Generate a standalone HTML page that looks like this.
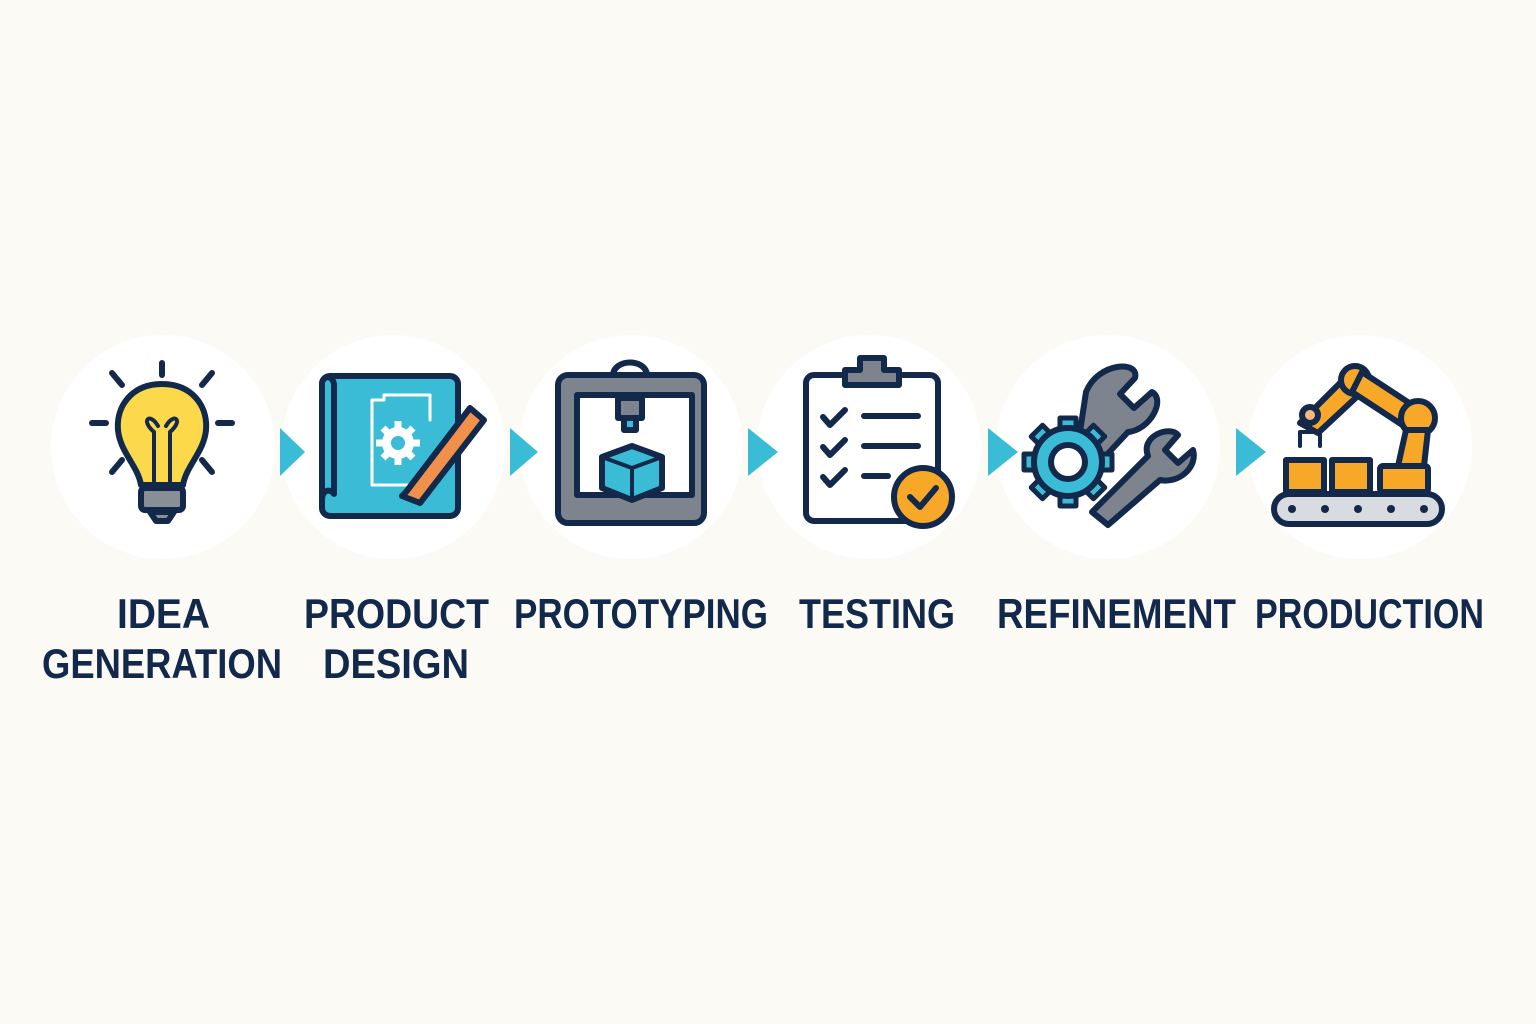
<!DOCTYPE html>
<html><head><meta charset="utf-8"><style>
html,body{margin:0;padding:0;background:#fcfaf5;}
svg{display:block}
text{font-family:"Liberation Sans",sans-serif;font-weight:bold;fill:#13294b;font-size:42px;}
</style></head><body>
<svg width="1536" height="1024" viewBox="0 0 1536 1024">
<rect width="1536" height="1024" fill="#fcfaf5"/>
<g fill="#ffffff">
<ellipse cx="163" cy="447" rx="112" ry="112"/>
<ellipse cx="393" cy="447" rx="112" ry="112"/>
<ellipse cx="631" cy="447" rx="112" ry="112"/>
<ellipse cx="869" cy="447" rx="112" ry="112"/>
<ellipse cx="1108" cy="447" rx="112" ry="112"/>
<ellipse cx="1360" cy="447" rx="112" ry="112"/>
</g>
<g fill="#3bbcd6">
<polygon points="280,428 305,452 280,476"/>
<polygon points="510,428 538,452 510,476"/>
<polygon points="748,428 778,452 748,476"/>
<polygon points="988,428 1018,452 988,476"/>
<polygon points="1236,428 1266,452 1236,476"/>
</g>
<g stroke="#13294b" stroke-width="6" stroke-linecap="round" stroke-linejoin="round">
<line x1="162" y1="375" x2="162" y2="363"/>
<line x1="112" y1="373" x2="122" y2="385"/><line x1="212" y1="373" x2="202" y2="385"/>
<line x1="92" y1="423" x2="106" y2="423"/><line x1="218" y1="423" x2="232" y2="423"/>
<line x1="112" y1="472" x2="122" y2="460"/><line x1="212" y1="472" x2="202" y2="460"/>
<path d="M162 384 C132 384 116 406 118 430 C120 452 138 466 141 485 L183 485 C186 466 204 452 206 430 C208 406 192 384 162 384Z" fill="#fbd94a"/>
<path d="M154 485 L154 432 M170 485 L170 432 M154 432 C140 420 150 412 158 426 M170 432 C184 420 174 412 166 426" fill="none" stroke-width="4"/>
<rect x="141" y="488" width="42" height="22" rx="4" fill="#8a8f96"/>
<path d="M150 512 L174 512 L168 521 L156 521Z" fill="#8a8f96"/>
<rect x="322" y="376" width="136" height="140" rx="8" fill="#3bbcd6"/>
<path d="M322 384 C322 376 332 374 334 384 L334 494 C330 488 322 490 322 500Z" fill="#3bbcd6"/>
<path d="M372 400 L384 400 L384 395 L430 395 L430 420 M372 400 L372 485 L426 485" fill="none" stroke="#fff" stroke-width="3"/>
<g stroke="#fff" stroke-width="7" stroke-linecap="butt"><line x1="398" y1="421" x2="398" y2="465"/><line x1="376" y1="443" x2="420" y2="443"/><line x1="383" y1="428" x2="413" y2="458"/><line x1="413" y1="428" x2="383" y2="458"/></g>
<circle cx="398" cy="443" r="16" fill="#fff" stroke="none"/>
<circle cx="398" cy="443" r="7" fill="#3bbcd6" stroke="none"/>
<path d="M406 492 L470 408 L484 420 L420 503 L402 496Z" fill="#f0904a"/>
<path d="M613 376 C613 358 647 358 647 376" fill="none"/>
<rect x="558" y="375" width="146" height="148" rx="10" fill="#7d848d"/>
<rect x="577" y="395" width="115" height="100" fill="#fff"/>
<rect x="618" y="398" width="24" height="20" fill="#7d848d"/>
<rect x="624" y="418" width="12" height="12" fill="#3bbcd6"/>
<path d="M602 457 L632 446 L662 457 L662 488 L632 500 L602 488Z" fill="#3bbcd6"/>
<path d="M602 457 L632 468 L662 457 M632 468 L632 500" fill="none" stroke-width="4"/>
<rect x="806" y="375" width="132" height="146" rx="8" fill="#fff"/>
<path d="M845 385 L845 370 L860 370 L860 358 L884 358 L884 370 L899 370 L899 385Z" fill="#7d848d"/>
<path d="M823 417 L830 425 L845 410 M823 447 L830 455 L845 440 M823 477 L830 485 L845 470" fill="none"/>
<line x1="864" y1="416" x2="918" y2="416"/><line x1="864" y1="446" x2="918" y2="446"/><line x1="864" y1="476" x2="888" y2="476"/>
<circle cx="923" cy="497" r="29" fill="#f7a829"/>
<path d="M910 497 L920 507 L936 488" fill="none"/>
<path d="M1086 392 C1098 362 1140 360 1135 378 L1120 394 L1134 408 L1152 392 C1166 400 1150 430 1128 432 L1100 462 L1078 445Z" fill="#7d848d"/>
<path d="M1092 512 L1148 456 C1140 436 1170 425 1178 435 L1165 450 L1178 463 L1193 450 C1198 466 1180 484 1160 480 L1108 525Z" fill="#7d848d"/>
<g fill="#3bbcd6" stroke-width="5">
<rect x="1060" y="418" width="16" height="14" transform="rotate(0 1068 462)"/>
<rect x="1060" y="418" width="16" height="14" transform="rotate(45 1068 462)"/>
<rect x="1060" y="418" width="16" height="14" transform="rotate(90 1068 462)"/>
<rect x="1060" y="418" width="16" height="14" transform="rotate(135 1068 462)"/>
<rect x="1060" y="418" width="16" height="14" transform="rotate(180 1068 462)"/>
<rect x="1060" y="418" width="16" height="14" transform="rotate(225 1068 462)"/>
<rect x="1060" y="418" width="16" height="14" transform="rotate(270 1068 462)"/>
<rect x="1060" y="418" width="16" height="14" transform="rotate(315 1068 462)"/>
</g>
<circle cx="1068" cy="462" r="34" fill="#3bbcd6"/>
<circle cx="1068" cy="462" r="17" fill="#fff"/>
<path d="M1300 423 L1345 378 L1362 392 L1318 433Z" fill="#f7a829"/>
<circle cx="1355" cy="380" r="14" fill="#f7a829"/>
<path d="M1362 372 L1420 410 L1410 430 L1352 392Z" fill="#f7a829"/>
<circle cx="1418" cy="418" r="17" fill="#f7a829"/>
<path d="M1406 430 L1428 430 L1424 466 L1398 466Z" fill="#f7a829"/>
<circle cx="1310" cy="415" r="8" fill="#f9b87a"/>
<path d="M1300 446 L1300 432 L1320 432 L1320 446 M1310 424 L1310 432" fill="none" stroke-width="4"/>
<rect x="1286" y="460" width="38" height="32" fill="#f7a829"/>
<rect x="1332" y="460" width="38" height="32" fill="#f7a829"/>
<rect x="1380" y="466" width="48" height="26" rx="3" fill="#f7a829"/>
<rect x="1274" y="494" width="168" height="30" rx="15" fill="#d8dbe0"/>
</g>
<g fill="#13294b">
<circle cx="1292" cy="509" r="4"/><circle cx="1325" cy="509" r="4"/><circle cx="1358" cy="509" r="4"/><circle cx="1391" cy="509" r="4"/><circle cx="1424" cy="509" r="4"/>
</g>
<text x="117" y="628" textLength="93" lengthAdjust="spacingAndGlyphs">IDEA</text>
<text x="42" y="678" textLength="240" lengthAdjust="spacingAndGlyphs">GENERATION</text>
<text x="304" y="628" textLength="185" lengthAdjust="spacingAndGlyphs">PRODUCT</text>
<text x="323" y="678" textLength="146" lengthAdjust="spacingAndGlyphs">DESIGN</text>
<text x="514" y="628" textLength="254" lengthAdjust="spacingAndGlyphs">PROTOTYPING</text>
<text x="799" y="628" textLength="156" lengthAdjust="spacingAndGlyphs">TESTING</text>
<text x="997" y="628" textLength="239" lengthAdjust="spacingAndGlyphs">REFINEMENT</text>
<text x="1255" y="628" textLength="229" lengthAdjust="spacingAndGlyphs">PRODUCTION</text>
</svg>
</body></html>
